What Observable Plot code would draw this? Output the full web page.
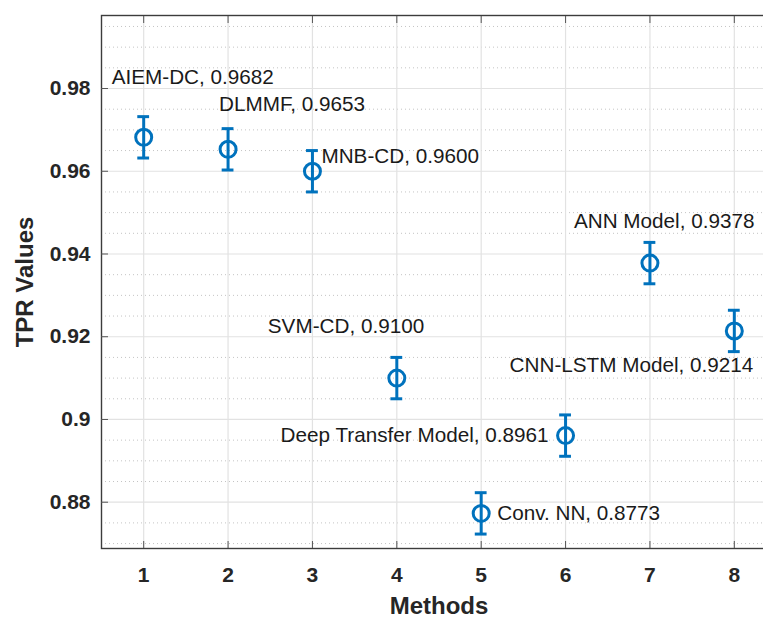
<!DOCTYPE html>
<html><head><meta charset="utf-8">
<script src="https://cdn.jsdelivr.net/npm/d3@7"></script>
<script src="https://cdn.jsdelivr.net/npm/@observablehq/plot@0.6"></script>
<style>
body{margin:0;background:#fff;}
#chart svg{display:block;}
g[aria-label="x-axis label"], g[aria-label="y-axis label"]{font-size:24px;}
</style>
</head><body><div id="chart"></div>
<script>
// ---- data ----
const methods = [1, 2, 3, 4, 5, 6, 7, 8];
const names = ["AIEM-DC", "DLMMF", "MNB-CD", "SVM-CD", "Conv. NN", "Deep Transfer Model", "ANN Model", "CNN-LSTM Model"];
const tpr = [0.9682, 0.9653, 0.9600, 0.9100, 0.8773, 0.8961, 0.9378, 0.9214];
const errLow = [0.005, 0.005, 0.005, 0.005, 0.005, 0.005, 0.005, 0.005];
const errHigh = [0.005, 0.005, 0.005, 0.005, 0.005, 0.005, 0.005, 0.005];
const xTicks = [1, 2, 3, 4, 5, 6, 7, 8];
const yTicks = [0.88, 0.90, 0.92, 0.94, 0.96, 0.98];
const yMinor = [0.870, 0.875, 0.885, 0.890, 0.895, 0.905, 0.910, 0.915, 0.925, 0.930, 0.935,
                0.945, 0.950, 0.955, 0.965, 0.970, 0.975, 0.985, 0.990, 0.995];

// ---- annotation layout (pixel offsets of the labels from their points) ----
const labelAnchor = ["start", "start", "start", "start", "start", "end", "start", "end"];
const labelDx = [-32, -9, 9, -129, 16, -17, -76, 19];
const labelDy = [-60, -45, -15, -52, 0, 0, -42, 34];

const rows = methods.map((m, i) => ({
  x: m, y: tpr[i], lo: tpr[i] - errLow[i], hi: tpr[i] + errHigh[i],
  label: `${names[i]}, ${tpr[i].toFixed(4)}`
}));

const blue = "#0072BD";
const capHalf = 0.07;
const fmt = d => String(+d.toFixed(2));

const labelMarks = rows.map((d, i) => Plot.text([d], {
  x: "x", y: "y", text: "label",
  textAnchor: labelAnchor[i], dx: labelDx[i], dy: labelDy[i],
  fontSize: 20.7, fill: "#1a1a1a"
}));

const chart = Plot.plot({
  width: 763, height: 617,
  marginLeft: 101, marginTop: 15, marginBottom: 69, marginRight: -13,
  x: {domain: [0.5, 8.5]},
  y: {domain: [0.86881, 0.99765]},
  style: {fontFamily: "'Liberation Sans', Arial, Helvetica, sans-serif", color: "#262626", background: "#fff"},
  marks: [
    Plot.ruleY(yMinor, {stroke: "#c4c4c4", strokeDasharray: "1,3", strokeWidth: 1}),
    Plot.ruleY(yTicks, {stroke: "#e2e2e2", strokeWidth: 1.2}),
    Plot.ruleX(xTicks, {stroke: "#e2e2e2", strokeWidth: 1.2}),
    Plot.frame({stroke: "#3c3c3c", strokeWidth: 1.4}),
    Plot.axisX(xTicks, {anchor: "bottom", tickSize: -7, tickPadding: 26, fontSize: 21, fontWeight: "bold",
      stroke: "#555", tickFormat: d => String(d),
      label: "Methods", labelAnchor: "center", labelOffset: 65, labelArrow: "none"}),
    Plot.axisX(xTicks, {anchor: "top", tickSize: -7, stroke: "#555", tickFormat: () => "", label: null}),
    Plot.axisY(yTicks, {anchor: "left", tickSize: -7, tickPadding: 18, fontSize: 21, fontWeight: "bold",
      stroke: "#555", tickFormat: fmt,
      label: "TPR Values", labelAnchor: "center", labelOffset: 86, labelArrow: "none"}),
    Plot.ruleX(rows, {x: "x", y1: "lo", y2: "hi", stroke: blue, strokeWidth: 3}),
    Plot.ruleY(rows, {y: "lo", x1: d => d.x - capHalf, x2: d => d.x + capHalf, stroke: blue, strokeWidth: 3}),
    Plot.ruleY(rows, {y: "hi", x1: d => d.x - capHalf, x2: d => d.x + capHalf, stroke: blue, strokeWidth: 3}),
    Plot.dot(rows, {x: "x", y: "y", r: 8, stroke: blue, strokeWidth: 3, fill: "none"}),
    ...labelMarks
  ]
});
document.getElementById("chart").appendChild(chart);
</script>
</body></html>
